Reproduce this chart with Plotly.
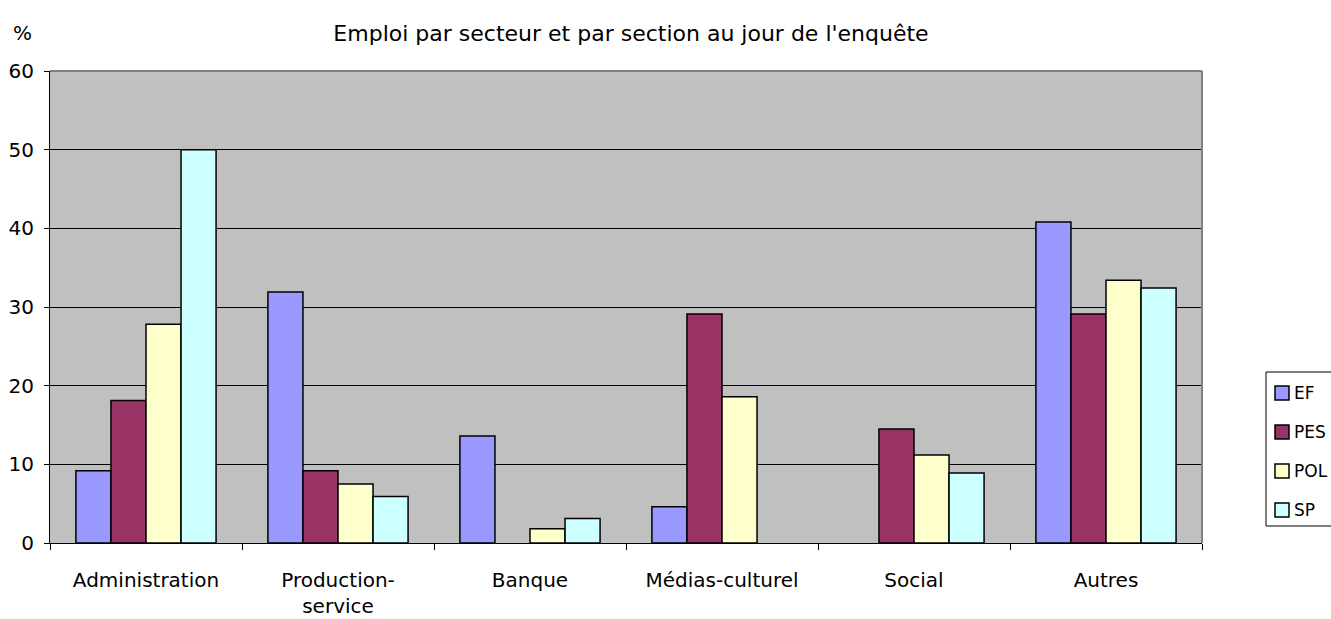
import plotly.graph_objects as go

categories = ["Administration", "Production-<br>service", "Banque", "Médias-culturel", "Social", "Autres"]
series_names = ["EF", "PES", "POL", "SP"]
ef = [9.2, 31.9, 13.6, 4.6, None, 40.8]
pes = [18.1, 9.2, None, 29.1, 14.5, 29.1]
pol = [27.8, 7.5, 1.8, 18.6, 11.2, 33.4]
sp = [50.0, 5.9, 3.1, None, 8.9, 32.4]
colors = ["#9999FF", "#993366", "#FFFFCC", "#CCFFFF"]
y_ticks = [0, 10, 20, 30, 40, 50, 60]

FONT = "DejaVu Sans, Liberation Sans, Arial, sans-serif"
W, H = 1331, 619
# target plot area in window pixels
PL, PR, PT, PB = 50, 1202, 71, 543
PW, PH = PR - PL, PB - PT


def px_x(x):
    return (x - PL) / PW


def px_y(y):
    return (PB - y) / PH


fig = go.Figure()
for i, (name, vals) in enumerate(zip(series_names, [ef, pes, pol, sp])):
    fig.add_trace(go.Bar(
        name=name, x=categories, y=vals,
        marker=dict(color=colors[i], line=dict(color="black", width=1.5)),
    ))

shapes = [
    dict(type="line", xref="paper", yref="paper", x0=0, x1=1, y0=1, y1=1,
         line=dict(color="#808080", width=2)),
    dict(type="line", xref="paper", yref="paper", x0=1, x1=1, y0=0, y1=1,
         line=dict(color="#808080", width=2)),
    # legend box
    dict(type="rect", xref="paper", yref="paper",
         x0=px_x(1266), x1=px_x(1345), y0=px_y(526), y1=px_y(372),
         line=dict(color="black", width=1), fillcolor="white", layer="above"),
]
annotations = [
    dict(text="%", x=px_x(22), y=px_y(33), xref="paper", yref="paper", showarrow=False,
         xanchor="center", yanchor="middle", font=dict(size=20, family=FONT)),
]
for i, name in enumerate(series_names):
    cy = 393 + 39 * i
    shapes.append(dict(type="rect", xref="paper", yref="paper",
                       x0=px_x(1275), x1=px_x(1289), y0=px_y(cy + 7), y1=px_y(cy - 7),
                       line=dict(color="black", width=1.5), fillcolor=colors[i], layer="above"))
    annotations.append(dict(text=name, x=px_x(1292), y=px_y(cy), xref="paper", yref="paper",
                            showarrow=False, xanchor="left", yanchor="middle",
                            font=dict(size=17, family=FONT)))

fig.update_layout(
    width=W, height=H,
    margin=dict(l=PL, r=W - PR, t=PT, b=H - PB, autoexpand=False, pad=0),
    paper_bgcolor="white", plot_bgcolor="#C0C0C0",
    barmode="group", bargap=0.27, bargroupgap=0,
    font=dict(family=FONT, size=20, color="black"),
    title=dict(text="Emploi par secteur et par section au jour de l'enquête",
               x=631 / W, xref="container", xanchor="center",
               y=1 - 33 / H, yref="container", yanchor="middle",
               font=dict(size=22, family=FONT)),
    showlegend=False,
    shapes=shapes,
    annotations=annotations,
)

fig.update_xaxes(
    type="category", tickson="boundaries", ticks="outside", ticklen=6, tickcolor="black",
    showline=True, linecolor="black", linewidth=1, mirror=False,
    tickfont=dict(size=20, family=FONT), ticklabelstandoff=19, showgrid=False,
)
fig.update_yaxes(
    range=[0, 60], tickvals=y_ticks, ticks="outside", ticklen=5, tickcolor="black",
    showline=True, linecolor="black", linewidth=1,
    showgrid=True, gridcolor="black", gridwidth=1, zeroline=False,
    tickfont=dict(size=20, family=FONT), ticklabelstandoff=6,
)

fig.write_html("out.html", config={"displayModeBar": False},
               post_script="document.body.style.margin='0';document.body.style.overflow='hidden';")
